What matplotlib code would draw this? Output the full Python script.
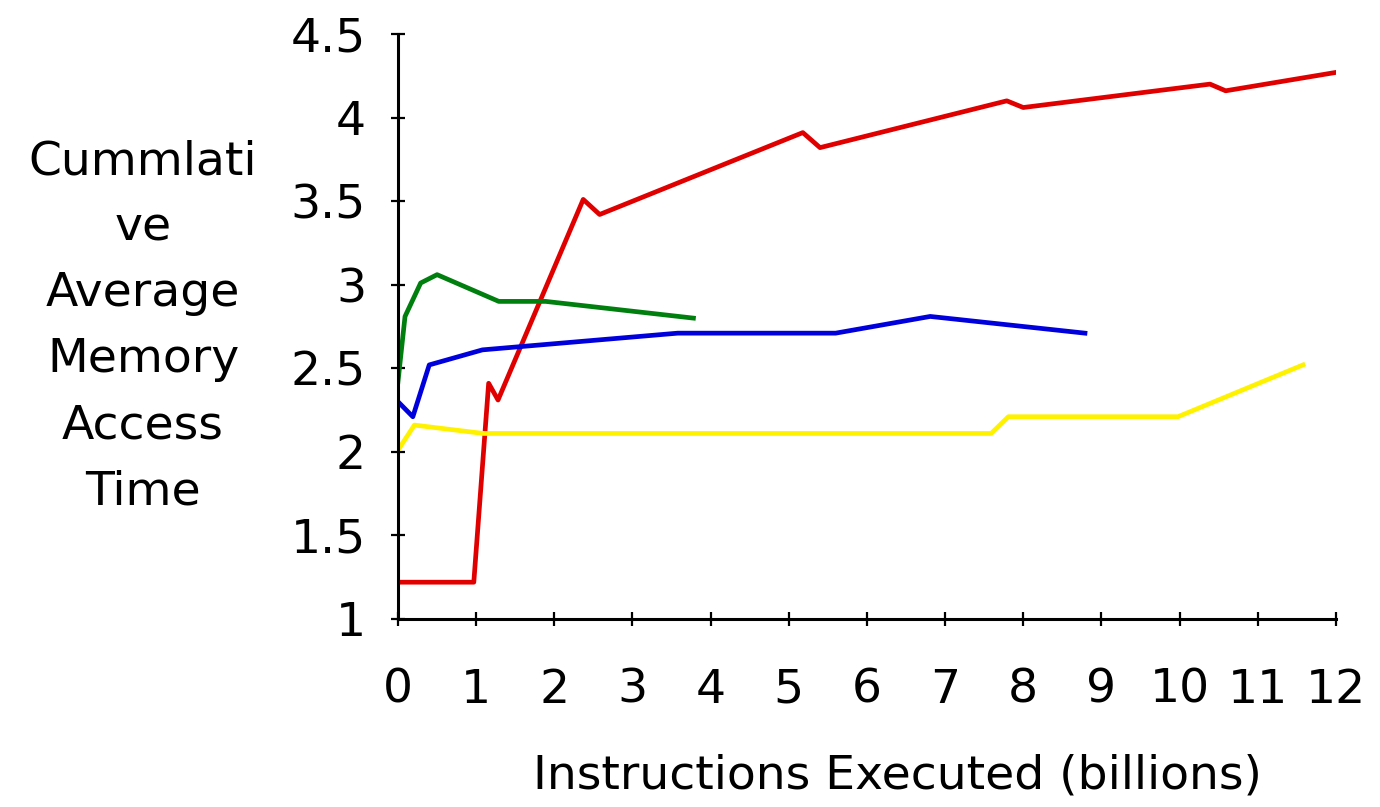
import numpy as np
import matplotlib.pyplot as plt

# Cumulative average memory access time vs instructions executed (billions)
red_x = [0, 0.97, 1.16, 1.28, 2.37, 2.58, 5.18, 5.40, 7.79, 8.0, 10.39, 10.59, 12.0]
red_y = [1.22, 1.22, 2.41, 2.31, 3.51, 3.42, 3.91, 3.82, 4.10, 4.06, 4.20, 4.16, 4.27]

green_x = [0, 0.09, 0.29, 0.50, 1.29, 1.89, 3.78]
green_y = [2.42, 2.81, 3.01, 3.06, 2.90, 2.90, 2.80]

blue_x = [0, 0.19, 0.40, 1.08, 3.58, 5.60, 6.81, 8.79]
blue_y = [2.30, 2.21, 2.52, 2.61, 2.71, 2.71, 2.81, 2.71]

yellow_x = [0, 0.21, 1.09, 7.59, 7.81, 9.98, 11.58]
yellow_y = [2.01, 2.16, 2.11, 2.11, 2.21, 2.21, 2.52]

x_ticks = np.arange(0, 13)
y_ticks = [1, 1.5, 2, 2.5, 3, 3.5, 4, 4.5]
y_labels = ['1', '1.5', '2', '2.5', '3', '3.5', '4', '4.5']

plt.rcParams['font.family'] = ['DejaVu Sans']

fig = plt.figure(figsize=(13.8, 8.07), dpi=100)
ax = fig.add_axes([0.2884, 0.2330, 0.968 - 0.2884, 0.9579 - 0.2330])

lw = 3.4
ax.plot(red_x, red_y, color='#E00000', linewidth=lw)
ax.plot(green_x, green_y, color='#007F0F', linewidth=lw)
ax.plot(blue_x, blue_y, color='#0000DD', linewidth=lw)
ax.plot(yellow_x, yellow_y, color='#FFF200', linewidth=lw)

ax.set_xlim(0, 12)
ax.set_ylim(1, 4.5)
ax.set_xticks(x_ticks)
ax.set_xticklabels([str(t) for t in x_ticks])
ax.set_yticks(y_ticks)
ax.set_yticklabels(y_labels)

for s in ['top', 'right']:
    ax.spines[s].set_visible(False)
for s in ['left', 'bottom']:
    ax.spines[s].set_linewidth(2.2)

ax.tick_params(axis='both', direction='inout', length=10, width=1.6,
               labelsize=34)
ax.tick_params(axis='x', pad=30)
ax.tick_params(axis='y', pad=18)

fig.text(143 / 1380, 1 - 327 / 807,
         "Cummlati\nve\nAverage\nMemory\nAccess\nTime",
         ha='center', va='center', fontsize=34, linespacing=1.6)
fig.text(897 / 1380, 1 - 776 / 807, "Instructions Executed (billions)",
         ha='center', va='center', fontsize=34)

fig.savefig('out.png', dpi=100)
